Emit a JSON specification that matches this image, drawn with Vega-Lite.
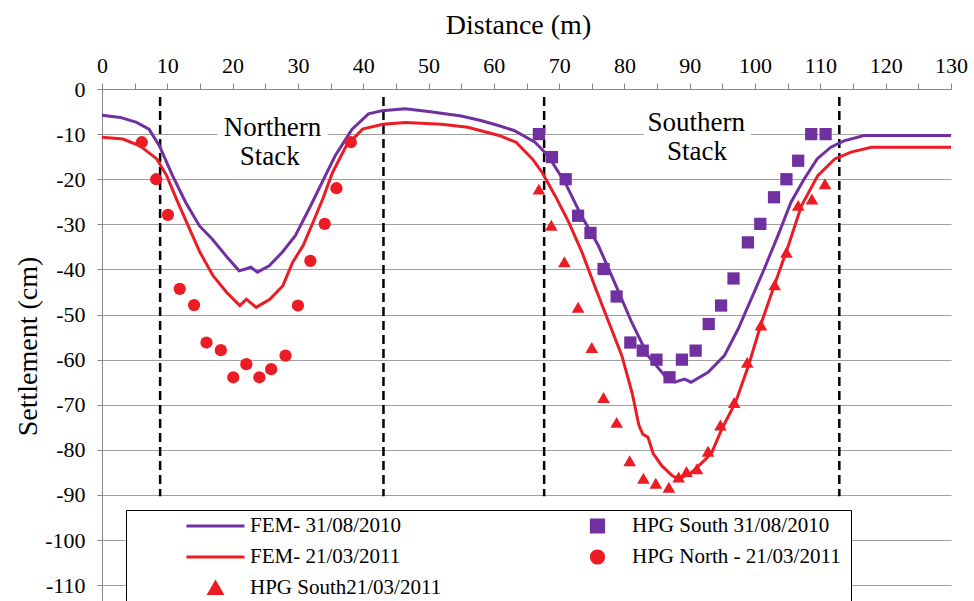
{
  "$schema": "https://vega.github.io/schema/vega-lite/v6.json",
  "width": 849,
  "height": 512,
  "autosize": {"type": "none"},
  "padding": {"left": 102, "top": 89, "right": 23, "bottom": 0},
  "background": "white",
  "config": {
    "view": {"stroke": null},
    "font": "Liberation Serif, Times New Roman, DejaVu Serif, serif",
    "axis": {"labelFont": "Liberation Serif, Times New Roman, DejaVu Serif, serif", "titleFont": "Liberation Serif, Times New Roman, DejaVu Serif, serif", "labelColor": "black", "titleColor": "black", "titleFontWeight": "normal", "domainColor": "#888888", "tickColor": "#888888"}
  },
  "datasets": {
    "series": [
      {"series": "FEM- 31/08/2010", "x": 0, "y": -5.8},
      {"series": "FEM- 31/08/2010", "x": 2.8, "y": -6.3},
      {"series": "FEM- 31/08/2010", "x": 5.3, "y": -7.4},
      {"series": "FEM- 31/08/2010", "x": 7.2, "y": -8.9},
      {"series": "FEM- 31/08/2010", "x": 8.8, "y": -12.6},
      {"series": "FEM- 31/08/2010", "x": 10.8, "y": -19.2},
      {"series": "FEM- 31/08/2010", "x": 12.8, "y": -25.1},
      {"series": "FEM- 31/08/2010", "x": 14.9, "y": -30.3},
      {"series": "FEM- 31/08/2010", "x": 16.9, "y": -33.3},
      {"series": "FEM- 31/08/2010", "x": 19, "y": -37},
      {"series": "FEM- 31/08/2010", "x": 21, "y": -40.3},
      {"series": "FEM- 31/08/2010", "x": 22, "y": -39.9},
      {"series": "FEM- 31/08/2010", "x": 22.8, "y": -39.5},
      {"series": "FEM- 31/08/2010", "x": 23.8, "y": -40.6},
      {"series": "FEM- 31/08/2010", "x": 25.6, "y": -39.2},
      {"series": "FEM- 31/08/2010", "x": 27.6, "y": -36.2},
      {"series": "FEM- 31/08/2010", "x": 29.6, "y": -32.5},
      {"series": "FEM- 31/08/2010", "x": 31.7, "y": -26.6},
      {"series": "FEM- 31/08/2010", "x": 33.7, "y": -20.7},
      {"series": "FEM- 31/08/2010", "x": 35.7, "y": -14.8},
      {"series": "FEM- 31/08/2010", "x": 38.3, "y": -8.9},
      {"series": "FEM- 31/08/2010", "x": 40.8, "y": -5.5},
      {"series": "FEM- 31/08/2010", "x": 42.9, "y": -4.8},
      {"series": "FEM- 31/08/2010", "x": 46.4, "y": -4.4},
      {"series": "FEM- 31/08/2010", "x": 50, "y": -5},
      {"series": "FEM- 31/08/2010", "x": 55, "y": -6},
      {"series": "FEM- 31/08/2010", "x": 58, "y": -7},
      {"series": "FEM- 31/08/2010", "x": 60.7, "y": -8.1},
      {"series": "FEM- 31/08/2010", "x": 63.1, "y": -9.2},
      {"series": "FEM- 31/08/2010", "x": 66.3, "y": -11.8},
      {"series": "FEM- 31/08/2010", "x": 68.3, "y": -14.8},
      {"series": "FEM- 31/08/2010", "x": 70.9, "y": -20.7},
      {"series": "FEM- 31/08/2010", "x": 73.4, "y": -28.1},
      {"series": "FEM- 31/08/2010", "x": 76, "y": -34.7},
      {"series": "FEM- 31/08/2010", "x": 78.5, "y": -42.9},
      {"series": "FEM- 31/08/2010", "x": 81.1, "y": -51.7},
      {"series": "FEM- 31/08/2010", "x": 83.6, "y": -59.1},
      {"series": "FEM- 31/08/2010", "x": 86.2, "y": -63.6},
      {"series": "FEM- 31/08/2010", "x": 87.7, "y": -65},
      {"series": "FEM- 31/08/2010", "x": 89.2, "y": -64.3},
      {"series": "FEM- 31/08/2010", "x": 90.2, "y": -65},
      {"series": "FEM- 31/08/2010", "x": 92.8, "y": -62.8},
      {"series": "FEM- 31/08/2010", "x": 95.3, "y": -59.1},
      {"series": "FEM- 31/08/2010", "x": 97.4, "y": -53.2},
      {"series": "FEM- 31/08/2010", "x": 99.4, "y": -46.6},
      {"series": "FEM- 31/08/2010", "x": 101.4, "y": -39.9},
      {"series": "FEM- 31/08/2010", "x": 103.5, "y": -32.5},
      {"series": "FEM- 31/08/2010", "x": 105.5, "y": -25.1},
      {"series": "FEM- 31/08/2010", "x": 107.5, "y": -20},
      {"series": "FEM- 31/08/2010", "x": 109.5, "y": -15.5},
      {"series": "FEM- 31/08/2010", "x": 111.6, "y": -12.9},
      {"series": "FEM- 31/08/2010", "x": 113.6, "y": -11.5},
      {"series": "FEM- 31/08/2010", "x": 116.7, "y": -10.3},
      {"series": "FEM- 31/08/2010", "x": 121.3, "y": -10.3},
      {"series": "FEM- 31/08/2010", "x": 130, "y": -10.3},
      {"series": "FEM- 21/03/2011", "x": 0, "y": -10.7},
      {"series": "FEM- 21/03/2011", "x": 3.2, "y": -11.1},
      {"series": "FEM- 21/03/2011", "x": 5.8, "y": -12.6},
      {"series": "FEM- 21/03/2011", "x": 8.4, "y": -15.5},
      {"series": "FEM- 21/03/2011", "x": 9.9, "y": -19.2},
      {"series": "FEM- 21/03/2011", "x": 11.4, "y": -24.4},
      {"series": "FEM- 21/03/2011", "x": 13.4, "y": -31},
      {"series": "FEM- 21/03/2011", "x": 15, "y": -36.2},
      {"series": "FEM- 21/03/2011", "x": 17, "y": -41.4},
      {"series": "FEM- 21/03/2011", "x": 19.1, "y": -45.1},
      {"series": "FEM- 21/03/2011", "x": 21.1, "y": -48},
      {"series": "FEM- 21/03/2011", "x": 22.1, "y": -46.6},
      {"series": "FEM- 21/03/2011", "x": 23.6, "y": -48.4},
      {"series": "FEM- 21/03/2011", "x": 25.7, "y": -46.6},
      {"series": "FEM- 21/03/2011", "x": 27.7, "y": -43.6},
      {"series": "FEM- 21/03/2011", "x": 29.2, "y": -38.4},
      {"series": "FEM- 21/03/2011", "x": 30.8, "y": -34.7},
      {"series": "FEM- 21/03/2011", "x": 32.3, "y": -29.6},
      {"series": "FEM- 21/03/2011", "x": 33.8, "y": -24.4},
      {"series": "FEM- 21/03/2011", "x": 35.3, "y": -18.5},
      {"series": "FEM- 21/03/2011", "x": 37.4, "y": -12.6},
      {"series": "FEM- 21/03/2011", "x": 39.9, "y": -8.9},
      {"series": "FEM- 21/03/2011", "x": 43, "y": -7.8},
      {"series": "FEM- 21/03/2011", "x": 46.5, "y": -7.4},
      {"series": "FEM- 21/03/2011", "x": 52, "y": -7.8},
      {"series": "FEM- 21/03/2011", "x": 56, "y": -8.5},
      {"series": "FEM- 21/03/2011", "x": 60.8, "y": -10.3},
      {"series": "FEM- 21/03/2011", "x": 63.4, "y": -11.8},
      {"series": "FEM- 21/03/2011", "x": 65.9, "y": -15.5},
      {"series": "FEM- 21/03/2011", "x": 67.4, "y": -18.5},
      {"series": "FEM- 21/03/2011", "x": 69.4, "y": -23.7},
      {"series": "FEM- 21/03/2011", "x": 71.5, "y": -29.6},
      {"series": "FEM- 21/03/2011", "x": 73.5, "y": -36.2},
      {"series": "FEM- 21/03/2011", "x": 75.6, "y": -44.3},
      {"series": "FEM- 21/03/2011", "x": 77.6, "y": -51.7},
      {"series": "FEM- 21/03/2011", "x": 79.6, "y": -59.1},
      {"series": "FEM- 21/03/2011", "x": 81.2, "y": -67.5},
      {"series": "FEM- 21/03/2011", "x": 82.2, "y": -74.5},
      {"series": "FEM- 21/03/2011", "x": 82.8, "y": -76.5},
      {"series": "FEM- 21/03/2011", "x": 83.6, "y": -77.2},
      {"series": "FEM- 21/03/2011", "x": 84.4, "y": -80.8},
      {"series": "FEM- 21/03/2011", "x": 85.7, "y": -83.5},
      {"series": "FEM- 21/03/2011", "x": 87.3, "y": -85.7},
      {"series": "FEM- 21/03/2011", "x": 88.3, "y": -86.5},
      {"series": "FEM- 21/03/2011", "x": 90.3, "y": -85},
      {"series": "FEM- 21/03/2011", "x": 91.4, "y": -83.5},
      {"series": "FEM- 21/03/2011", "x": 92.4, "y": -82.1},
      {"series": "FEM- 21/03/2011", "x": 93.4, "y": -80.5},
      {"series": "FEM- 21/03/2011", "x": 94.9, "y": -75.4},
      {"series": "FEM- 21/03/2011", "x": 97, "y": -69.5},
      {"series": "FEM- 21/03/2011", "x": 99, "y": -61.3},
      {"series": "FEM- 21/03/2011", "x": 101, "y": -51.7},
      {"series": "FEM- 21/03/2011", "x": 103.1, "y": -42.9},
      {"series": "FEM- 21/03/2011", "x": 105.1, "y": -34.7},
      {"series": "FEM- 21/03/2011", "x": 107.1, "y": -25.9},
      {"series": "FEM- 21/03/2011", "x": 109.6, "y": -19.2},
      {"series": "FEM- 21/03/2011", "x": 112.2, "y": -15.5},
      {"series": "FEM- 21/03/2011", "x": 114.7, "y": -14},
      {"series": "FEM- 21/03/2011", "x": 117.8, "y": -12.9},
      {"series": "FEM- 21/03/2011", "x": 130, "y": -12.9},
      {"series": "HPG North  - 21/03/2011", "x": 6.1, "y": -11.8},
      {"series": "HPG North  - 21/03/2011", "x": 8.3, "y": -20},
      {"series": "HPG North  - 21/03/2011", "x": 10.1, "y": -27.9},
      {"series": "HPG North  - 21/03/2011", "x": 11.9, "y": -44.3},
      {"series": "HPG North  - 21/03/2011", "x": 14.1, "y": -47.9},
      {"series": "HPG North  - 21/03/2011", "x": 16, "y": -56.2},
      {"series": "HPG North  - 21/03/2011", "x": 18.2, "y": -57.9},
      {"series": "HPG North  - 21/03/2011", "x": 20.1, "y": -63.9},
      {"series": "HPG North  - 21/03/2011", "x": 22.1, "y": -61},
      {"series": "HPG North  - 21/03/2011", "x": 24.1, "y": -63.9},
      {"series": "HPG North  - 21/03/2011", "x": 25.9, "y": -62.1},
      {"series": "HPG North  - 21/03/2011", "x": 28.1, "y": -59.1},
      {"series": "HPG North  - 21/03/2011", "x": 30, "y": -48},
      {"series": "HPG North  - 21/03/2011", "x": 31.9, "y": -38.1},
      {"series": "HPG North  - 21/03/2011", "x": 34.1, "y": -29.9},
      {"series": "HPG North  - 21/03/2011", "x": 35.9, "y": -22},
      {"series": "HPG North  - 21/03/2011", "x": 38.1, "y": -11.8},
      {"series": "HPG South 31/08/2010", "x": 66.9, "y": -10},
      {"series": "HPG South 31/08/2010", "x": 68.9, "y": -15.1},
      {"series": "HPG South 31/08/2010", "x": 71, "y": -20},
      {"series": "HPG South 31/08/2010", "x": 72.9, "y": -28.1},
      {"series": "HPG South 31/08/2010", "x": 74.8, "y": -31.9},
      {"series": "HPG South 31/08/2010", "x": 76.8, "y": -39.9},
      {"series": "HPG South 31/08/2010", "x": 78.8, "y": -46},
      {"series": "HPG South 31/08/2010", "x": 80.9, "y": -56.2},
      {"series": "HPG South 31/08/2010", "x": 82.8, "y": -58},
      {"series": "HPG South 31/08/2010", "x": 84.9, "y": -60},
      {"series": "HPG South 31/08/2010", "x": 86.9, "y": -63.9},
      {"series": "HPG South 31/08/2010", "x": 88.8, "y": -60},
      {"series": "HPG South 31/08/2010", "x": 90.9, "y": -58},
      {"series": "HPG South 31/08/2010", "x": 92.9, "y": -52.1},
      {"series": "HPG South 31/08/2010", "x": 94.8, "y": -48},
      {"series": "HPG South 31/08/2010", "x": 96.7, "y": -42},
      {"series": "HPG South 31/08/2010", "x": 98.9, "y": -34},
      {"series": "HPG South 31/08/2010", "x": 100.8, "y": -29.9},
      {"series": "HPG South 31/08/2010", "x": 102.9, "y": -24},
      {"series": "HPG South 31/08/2010", "x": 104.8, "y": -20},
      {"series": "HPG South 31/08/2010", "x": 106.6, "y": -15.9},
      {"series": "HPG South 31/08/2010", "x": 108.6, "y": -10},
      {"series": "HPG South 31/08/2010", "x": 110.8, "y": -10},
      {"series": "HPG South21/03/2011", "x": 66.9, "y": -22.2},
      {"series": "HPG South21/03/2011", "x": 68.8, "y": -30.2},
      {"series": "HPG South21/03/2011", "x": 70.8, "y": -38.3},
      {"series": "HPG South21/03/2011", "x": 72.9, "y": -48.4},
      {"series": "HPG South21/03/2011", "x": 75, "y": -57.3},
      {"series": "HPG South21/03/2011", "x": 76.8, "y": -68.4},
      {"series": "HPG South21/03/2011", "x": 78.8, "y": -73.9},
      {"series": "HPG South21/03/2011", "x": 80.8, "y": -82.4},
      {"series": "HPG South21/03/2011", "x": 82.9, "y": -86.3},
      {"series": "HPG South21/03/2011", "x": 84.8, "y": -87.4},
      {"series": "HPG South21/03/2011", "x": 86.8, "y": -88.3},
      {"series": "HPG South21/03/2011", "x": 88.3, "y": -86},
      {"series": "HPG South21/03/2011", "x": 89.5, "y": -84.8},
      {"series": "HPG South21/03/2011", "x": 91.1, "y": -84.2},
      {"series": "HPG South21/03/2011", "x": 92.8, "y": -80.3},
      {"series": "HPG South21/03/2011", "x": 94.7, "y": -74.5},
      {"series": "HPG South21/03/2011", "x": 96.8, "y": -69.5},
      {"series": "HPG South21/03/2011", "x": 98.8, "y": -60.6},
      {"series": "HPG South21/03/2011", "x": 100.9, "y": -52.3},
      {"series": "HPG South21/03/2011", "x": 103, "y": -43.4},
      {"series": "HPG South21/03/2011", "x": 104.8, "y": -36.2},
      {"series": "HPG South21/03/2011", "x": 106.6, "y": -25.8},
      {"series": "HPG South21/03/2011", "x": 108.7, "y": -24.4},
      {"series": "HPG South21/03/2011", "x": 110.7, "y": -21}
    ],
    "bounds": [
      {"x": 8.9, "y": -1.8, "y2": -90.3},
      {"x": 43.1, "y": -1.8, "y2": -90.3},
      {"x": 67.7, "y": -1.8, "y2": -90.3},
      {"x": 112.9, "y": -1.8, "y2": -90.3}
    ],
    "notes": [
      {"label": "Northern", "x": 26.1, "y": -8.6},
      {"label": "Stack", "x": 25.7, "y": -15},
      {"label": "Southern", "x": 91, "y": -7.6},
      {"label": "Stack", "x": 91.1, "y": -14}
    ]
  },
  "encoding": {
    "x": {
      "field": "x", "type": "quantitative",
      "scale": {"domain": [0, 130], "nice": false, "zero": false},
      "axis": {
        "orient": "top", "title": "Distance (m)", "grid": false,
        "values": [0, 5, 10, 15, 20, 25, 30, 35, 40, 45, 50, 55, 60, 65, 70, 75, 80, 85, 90, 95, 100, 105, 110, 115, 120, 125, 130],
        "labelExpr": "datum.value % 10 === 0 ? '' + datum.value : ''",
        "labelOverlap": false, "labelFlush": false,
        "tickSize": 6, "labelPadding": 6, "labelFontSize": 22,
        "titleFontSize": 28, "titleX": 416, "titleY": -64, "titleBaseline": "middle", "titleAlign": "center"
      }
    },
    "y": {
      "field": "y", "type": "quantitative",
      "scale": {"domain": [-113.5, 0], "nice": false, "zero": false},
      "axis": {
        "title": "Settlement (cm)", "grid": true, "gridColor": "#a0a0a0", "gridWidth": 1.2,
        "values": [0, -10, -20, -30, -40, -50, -60, -70, -80, -90, -100, -110],
        "labelExpr": "'' + datum.value",
        "labelOverlap": false, "labelFlush": false,
        "tickSize": 5, "labelPadding": 12, "labelFontSize": 22,
        "titleFontSize": 28, "titleAngle": -90, "titleX": -74, "titleY": 257, "titleAlign": "center", "titleBaseline": "middle"
      }
    }
  },
  "layer": [
    {
      "data": {"name": "notes"},
      "mark": {"type": "text", "fontSize": 27, "font": "Liberation Serif, Times New Roman, DejaVu Serif, serif", "align": "center", "baseline": "middle", "fill": "white", "stroke": "white", "strokeWidth": 14, "strokeJoin": "round"},
      "encoding": {"text": {"field": "label"}}
    },
    {
      "data": {"name": "bounds"},
      "mark": {"type": "rule", "color": "black", "strokeWidth": 2.5, "strokeDash": [9, 5]},
      "encoding": {"y2": {"field": "y2"}}
    },
    {
      "data": {"name": "series"},
      "transform": [{"filter": "indexof(datum.series, 'FEM') === 0"}],
      "mark": {"type": "line", "strokeWidth": 3},
      "encoding": {
        "color": {
          "field": "series", "type": "nominal",
          "scale": {
            "domain": ["FEM- 31/08/2010", "FEM- 21/03/2011", "HPG South21/03/2011", "HPG South 31/08/2010", "HPG North  - 21/03/2011"],
            "range": ["#7030A0", "#EC1C24", "#EC1C24", "#7030A0", "#EC1C24"]
          },
          "legend": {
            "title": "\u00a0", "titleOrient": "left", "titleFontSize": 21, "titlePadding": 54,
            "orient": "none", "legendX": 24, "legendY": 421,
            "columns": 2, "columnPadding": 125, "rowPadding": 9, "padding": 5,
            "fillColor": "white", "strokeColor": "black",
            "clipHeight": 22, "symbolStrokeWidth": 3,
            "labelFont": "Liberation Serif, Times New Roman, DejaVu Serif, serif", "labelFontSize": 21, "labelColor": "black", "labelLimit": 400, "labelBaseline": "middle"
          }
        }
      }
    },
    {
      "data": {"name": "series"},
      "transform": [{"filter": "indexof(datum.series, 'HPG') === 0"}],
      "mark": {"type": "point", "filled": true, "opacity": 1, "strokeWidth": 0},
      "encoding": {
        "color": {"field": "series", "type": "nominal"},
        "shape": {
          "field": "series", "type": "nominal",
          "scale": {
            "domain": ["FEM- 31/08/2010", "FEM- 21/03/2011", "HPG South21/03/2011", "HPG South 31/08/2010", "HPG North  - 21/03/2011"],
            "range": ["stroke", "stroke", "triangle-up", "square", "circle"]
          }
        },
        "size": {
          "field": "series", "type": "nominal",
          "scale": {
            "type": "ordinal",
            "domain": ["FEM- 31/08/2010", "FEM- 21/03/2011", "HPG South21/03/2011", "HPG South 31/08/2010", "HPG North  - 21/03/2011"],
            "range": [3364, 3364, 160, 150, 150]
          }
        }
      }
    },
    {
      "data": {"name": "notes"},
      "mark": {"type": "text", "fontSize": 27, "font": "Liberation Serif, Times New Roman, DejaVu Serif, serif", "align": "center", "baseline": "middle", "color": "black"},
      "encoding": {"text": {"field": "label"}}
    }
  ]
}
